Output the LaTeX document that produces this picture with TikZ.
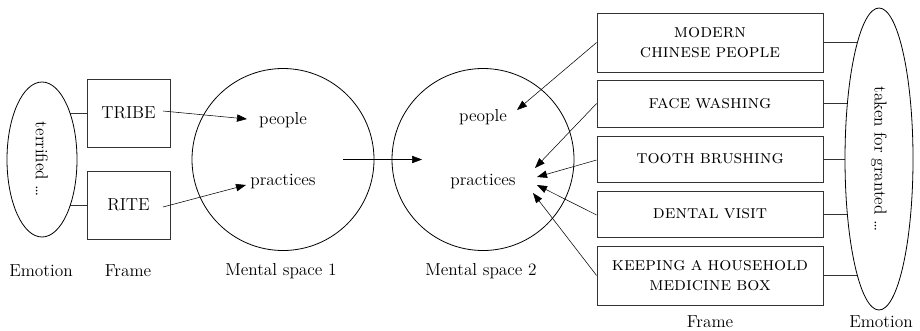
\documentclass[tikz,border=0pt]{standalone}
\usetikzlibrary{arrows.meta,shapes.geometric,calc,backgrounds}
% small capitals with tighter word spacing for the frame boxes
\newcommand{\framecaps}{\fontsize{14.3pt}{14.5pt}\selectfont\scshape\spaceskip=0.27em plus 0.1em\relax}
\begin{document}
\begin{tikzpicture}[x=0.75pt,y=-0.75pt,
  font=\fontsize{13pt}{15pt}\selectfont,
  line width=0.6pt,
  framebox/.style={draw=black!80,rectangle,inner sep=0pt},
  bigframe/.style={framebox,minimum width=169.5pt,align=center,font=\framecaps},
  emo/.style={draw,ellipse,inner sep=0pt,fill=white},
  space/.style={draw,circle,inner sep=0pt,minimum size=136.5pt},
  word/.style={inner sep=0pt},
  arr/.style={-{Triangle[length=7.5pt,width=5.5pt]}},
  tie/.style={draw=black!80}]
\useasboundingbox (0,0) rectangle (920,330);

% left side: emotion and frames
\node[emo,minimum width=52.5pt,minimum height=116.25pt] (em1) at (42,159.5)
  {\rotatebox{-90}{terrified \dots}};
\node[framebox,minimum width=62.25pt,minimum height=51pt] (tribe) at (128.5,113) {TRIBE};
\node[framebox,minimum width=62.25pt,minimum height=51pt] (rite) at (128.5,205) {RITE};

% mental spaces
\node[space] (ms1) at (283,159.5) {};
\node[word] (pe1) at (283,120) {people};
\node[word] (pr1) at (283,182) {practices};
\node[space] (ms2) at (483,159.5) {};
\node[word] (pe2) at (483,117) {people};
\node[word] (pr2) at (483,182) {practices};

% right side: frames and emotion
\node[bigframe,minimum height=44.25pt] (f1) at (710,42.5) {modern\\chinese people};
\node[bigframe,minimum height=35.25pt] (f2) at (710,103.5) {face washing};
\node[bigframe,minimum height=34.5pt] (f3) at (710,159) {tooth brushing};
\node[bigframe,minimum height=34.5pt] (f4) at (710,214) {dental visit};
\node[bigframe,minimum height=44.25pt] (f5) at (710,275.5) {keeping a household\\medicine box};
\node[emo,minimum width=51pt,minimum height=226.5pt] (em2) at (879,159)
  {\rotatebox{-90}{taken for granted \dots}};

% ties from emotions to frames (hidden behind the ellipses)
\begin{pgfonlayer}{background}
  \draw[tie] (tribe.west) -- (tribe.west -| em1.center);
  \draw[tie] (rite.west) -- (rite.west -| em1.center);
  \foreach \f in {f1,f2,f3,f4,f5}
    \draw[tie] (\f.east) -- (\f.east -| em2.center);
\end{pgfonlayer}

% mappings
\draw[arr] ($(tribe)+(34.5,-2)$) -- ($(pe1)+(-36,-1)$);
\draw[arr] ($(rite)+(34.5,2)$) -- ($(pr1)+(-37,3)$);
\draw[arr] ($(ms1)+(60,0)$) -- ($(ms2)+(-61,0)$);
\draw[arr] (f1.west) -- ($(pe2)+(34,-7)$);
\draw[arr] (f2.west) -- ($(pr2)+(52,-14)$);
\draw[arr] ($(f3.west)+(0,1)$) -- ($(pr2)+(54,-5)$);
\draw[arr] ($(f4.west)+(0,1)$) -- ($(pr2)+(54,3)$);
\draw[arr] (f5.west) -- ($(pr2)+(50,11)$);

% captions
\node[word] (c1) at (41,271) {Emotion};
\node[word] (c2) at (128,271) {Frame};
\node[word] (c3) at (281,271) {Mental space 1};
\node[word] (c4) at (481,271) {Mental space 2};
\node[word] (c5) at (710,322) {Frame};
\node[word] (c6) at (881,322) {Emotion};
\end{tikzpicture}
\end{document}
